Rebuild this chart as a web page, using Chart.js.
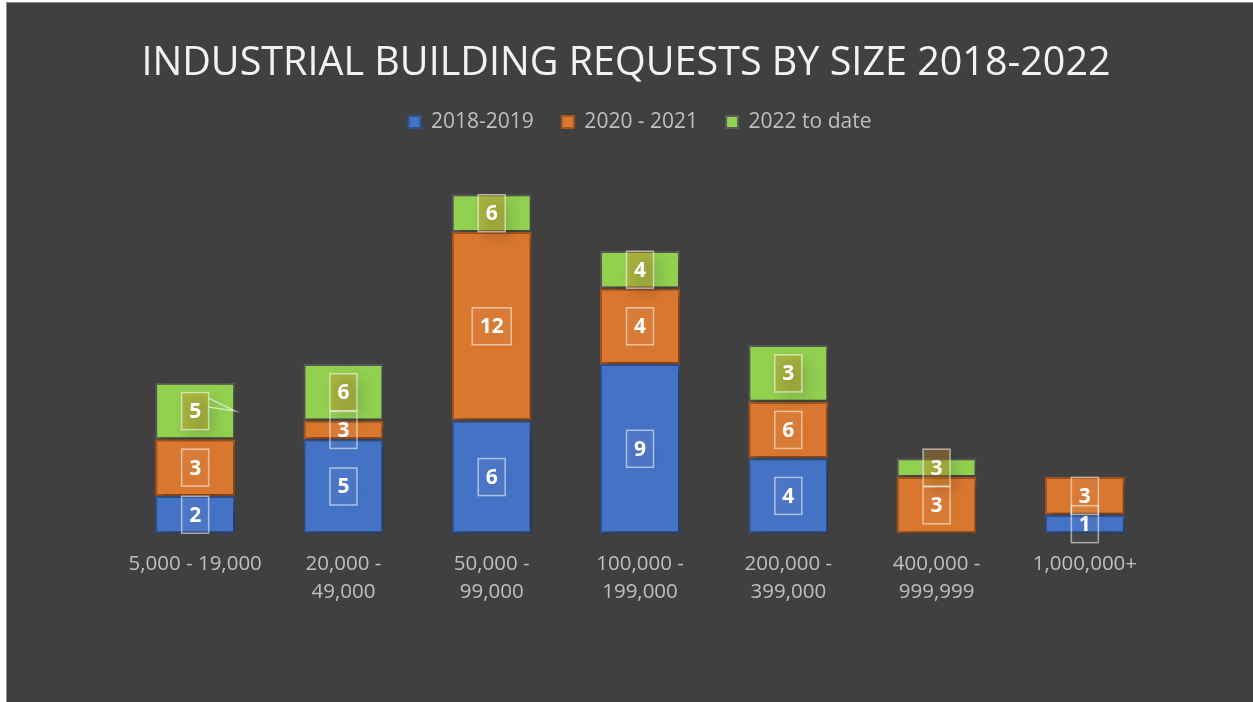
<!DOCTYPE html>
<html>
<head>
<meta charset="utf-8">
<script src="https://cdn.jsdelivr.net/npm/chart.js@4"></script>
<style>
  html, body { margin: 0; padding: 0; background: #ffffff; }
  #frame {
    position: absolute; left: 6px; top: 2px;
    width: 1246px; height: 699px;
    background: #404040;
    border-left: 1px solid #8c8c8c; border-top: 1px solid #8c8c8c;
  }
  #wrap { position: relative; width: 1246px; height: 699px; }
</style>
</head>
<body>
<div id="frame"><div id="wrap"><canvas id="requestChart"></canvas></div></div>
<script>
// 면적 구간 (카테고리)
const sizeBands = [
    '5,000 - 19,000',
    ['20,000 -', '49,000'],
    ['50,000 -', '99,000'],
    ['100,000 -', '199,000'],
    ['200,000 -', '399,000'],
    ['400,000 -', '999,999'],
    '1,000,000+'
];
const seriesNames = ['2018-2019', '2020 - 2021', '2022 to date'];
const chartTitle = 'INDUSTRIAL BUILDING REQUESTS BY SIZE 2018-2022';

// 막대 높이
const bars2018 = [2, 5, 6, 9, 4, 0, 1];
const bars2020 = [3, 1, 10, 4, 3, 3, 2];
const bars2022 = [3, 3, 2, 2, 3, 1, 0];

// 막대 위에 표시된 숫자 라벨 (원본 그대로)
const labels2018 = [2, 5, 6, 9, 4, null, 1];
const labels2020 = [3, 3, 12, 4, 6, 3, 3];
const labels2022 = [5, 6, 6, 4, 3, 3, null];

const yMax = 20.75;

const fillColors = ['#4472c4', '#d9772f', '#92d050'];
const edgeColors = ['#2f528f', '#a9561c', '#5a5a5a'];
const boxFills = ['rgba(255,255,255,0.04)', 'rgba(255,255,255,0.04)', 'rgba(200,140,40,0.38)'];

// 라벨 상자 그리기 플러그인
const boxLabels = {
    id: 'boxLabels',
    afterDatasetsDraw(chart) {
        const ctx = chart.ctx;
        ctx.save();
        ctx.font = 'bold 21px "Open Sans", sans-serif';
        ctx.textAlign = 'center';
        ctx.textBaseline = 'middle';
        chart.data.datasets.forEach((ds, di) => {
            const meta = chart.getDatasetMeta(di);
            meta.data.forEach((bar, i) => {
                const txt = ds.shownLabels[i];
                if (txt === null || txt === undefined) return;
                const cy = (bar.y + bar.base) / 2;
                const w = ctx.measureText(String(txt)).width + 15;
                const h = 37;
                const x0 = bar.x - w / 2, y0 = cy - h / 2;
                ctx.shadowColor = 'rgba(0,0,0,0.35)';
                ctx.shadowBlur = 14;
                ctx.shadowOffsetX = 6;
                ctx.shadowOffsetY = 6;
                ctx.fillStyle = boxFills[di];
                ctx.fillRect(x0, y0, w, h);
                ctx.shadowColor = 'transparent';
                ctx.strokeStyle = 'rgba(255,255,255,0.55)';
                ctx.lineWidth = 1.5;
                if (ds.callout && ds.callout[i]) {
                    const tipX = bar.x + bar.width / 2;
                    ctx.beginPath();
                    ctx.moveTo(x0 + w, cy - 4);
                    ctx.lineTo(tipX, cy);
                    ctx.lineTo(x0 + w, cy - 13);
                    ctx.stroke();
                }
                ctx.strokeRect(x0, y0, w, h);
                ctx.fillStyle = '#ffffff';
                ctx.fillText(String(txt), bar.x, cy + 1);
            });
        });
        ctx.restore();
    }
};

// 막대 그림자
const barShadow = {
    id: 'barShadow',
    beforeDatasetsDraw(chart) {
        const ctx = chart.ctx;
        ctx.save();
        ctx.shadowColor = 'rgba(0,0,0,0.35)';
        ctx.shadowBlur = 10;
        ctx.shadowOffsetX = 4;
        ctx.shadowOffsetY = 4;
    },
    afterDatasetsDraw(chart) {
        chart.ctx.restore();
    }
};

// 제목은 원본처럼 약간 왼쪽에 그림 (자리는 기본 title 이 잡아줌)
const shiftedTitle = {
    id: 'shiftedTitle',
    afterDraw(chart) {
        const tb = chart.titleBlock;
        const ctx = chart.ctx;
        ctx.save();
        ctx.font = 'normal 39.5px "Open Sans", sans-serif';
        ctx.fillStyle = '#f2f2f2';
        ctx.textAlign = 'center';
        ctx.textBaseline = 'middle';
        ctx.fillText(chartTitle, chart.width / 2 - 4, (tb.top + tb.bottom) / 2);
        ctx.restore();
    }
};

const ctx = document.getElementById('requestChart').getContext('2d');
new Chart(ctx, {
    type: 'bar',
    data: {
        labels: sizeBands,
        datasets: [
            { label: seriesNames[0], data: bars2018, shownLabels: labels2018 },
            { label: seriesNames[1], data: bars2020, shownLabels: labels2020 },
            { label: seriesNames[2], data: bars2022, shownLabels: labels2022, callout: [true] }
        ].map((d, i) => Object.assign(d, {
            backgroundColor: fillColors[i],
            borderColor: edgeColors[i],
            borderWidth: 2,
            borderSkipped: false,
            barPercentage: 0.54,
            categoryPercentage: 1
        }))
    },
    options: {
        responsive: true,
        maintainAspectRatio: false,
        animation: false,
        layout: { padding: { left: 114, right: 94, top: 41, bottom: 87 } },
        scales: {
            x: {
                stacked: true,
                grid: { display: false },
                border: { display: false },
                ticks: {
                    color: '#bfbfbf',
                    font: { family: '"Open Sans", sans-serif', size: 20.5, lineHeight: 1.4 },
                    maxRotation: 0,
                    autoSkip: false,
                    padding: 8
                }
            },
            y: {
                stacked: true,
                display: false,
                min: 0,
                max: yMax
            }
        },
        plugins: {
            title: {
                display: true,
                text: chartTitle,
                color: 'rgba(0,0,0,0)',
                font: { family: '"Open Sans", sans-serif', size: 39.5, weight: 'normal', lineHeight: 1.0 },
                padding: { top: 0, bottom: 0 }
            },
            legend: {
                position: 'top',
                labels: {
                    color: '#bfbfbf',
                    font: { family: '"Open Sans", sans-serif', size: 21 },
                    boxWidth: 12,
                    boxHeight: 12,
                    padding: 28
                }
            },
            tooltip: { enabled: false }
        }
    },
    plugins: [barShadow, boxLabels, shiftedTitle]
});
</script>
</body>
</html>
